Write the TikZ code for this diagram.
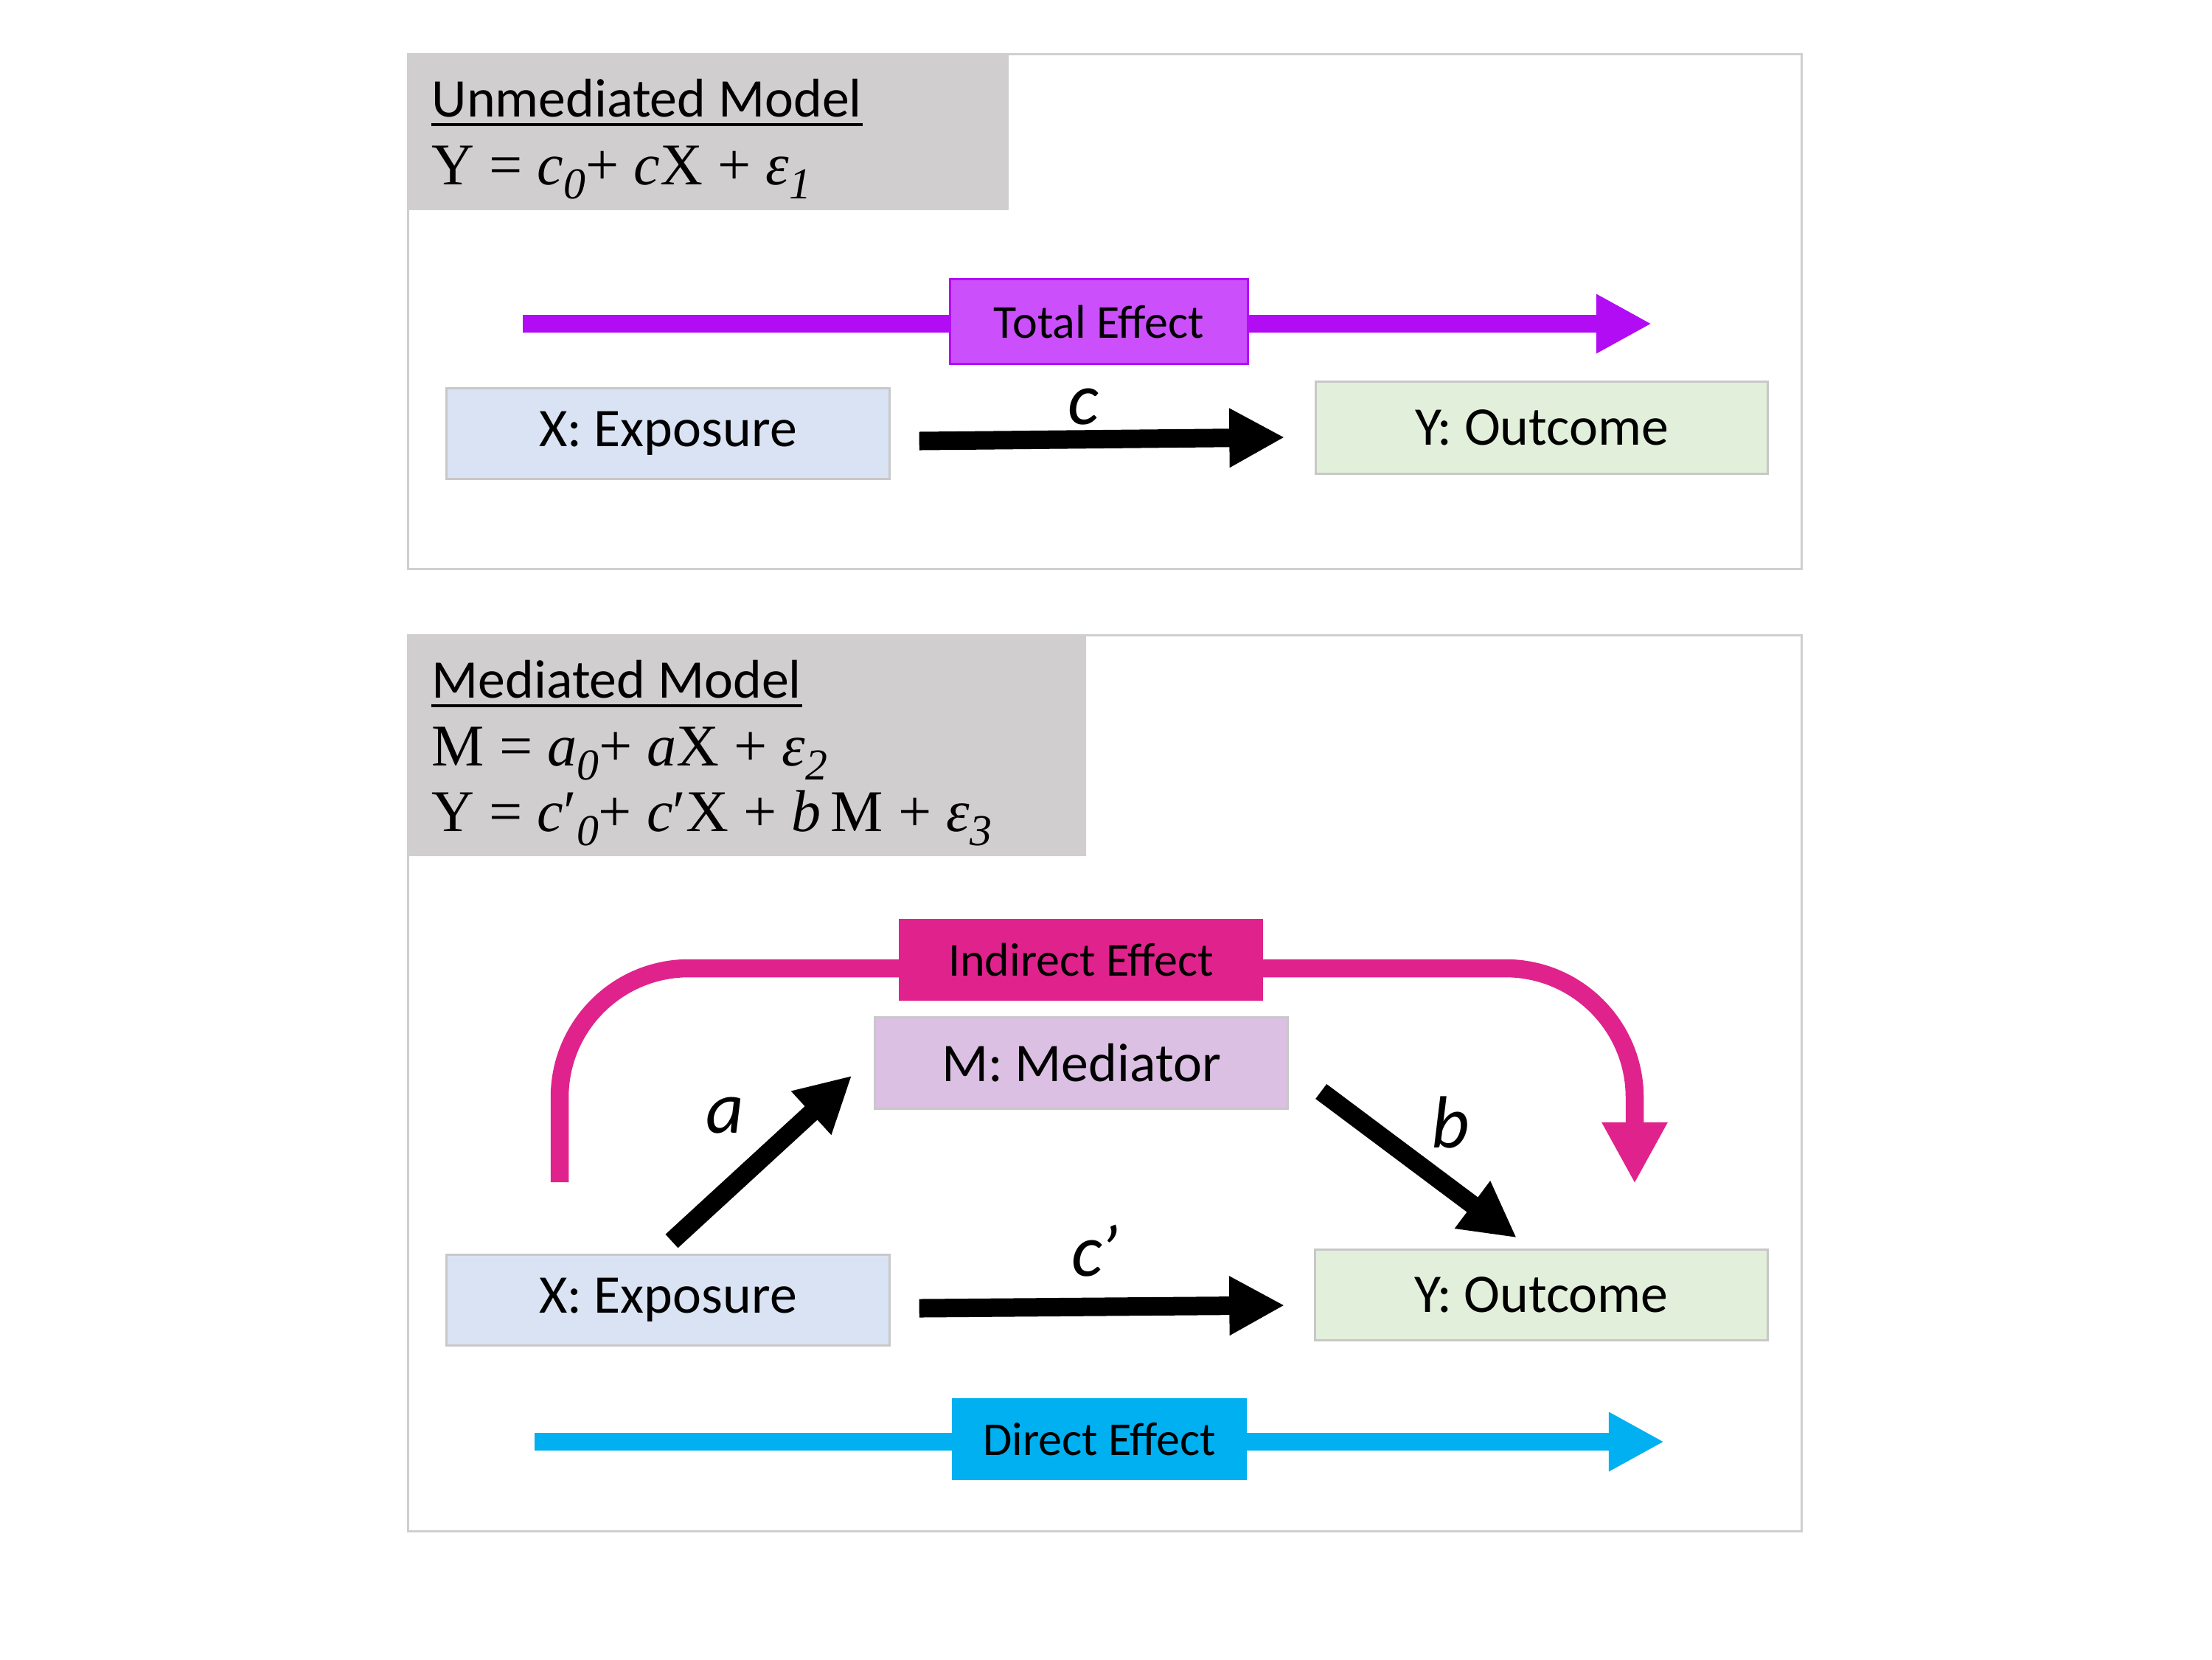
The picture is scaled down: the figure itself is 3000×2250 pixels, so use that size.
\documentclass[tikz,border=0pt]{standalone}
\usepackage{fontspec}
\setmainfont{Carlito}
\newfontfamily\eqfont{Liberation Serif}
\usetikzlibrary{arrows.meta,calc}
\definecolor{hdrgray}{RGB}{208,206,206}
\definecolor{panelgray}{RGB}{208,206,206}
\definecolor{boxgray}{RGB}{200,200,200}
\definecolor{xfill}{RGB}{218,227,243}
\definecolor{yfill}{RGB}{226,239,218}
\definecolor{mfill}{RGB}{220,192,228}
\definecolor{purpleA}{RGB}{178,12,245}
\definecolor{purpleB}{RGB}{203,79,250}
\definecolor{pinkA}{RGB}{224,35,140}
\definecolor{blueA}{RGB}{0,176,240}
\newcommand{\eqsub}[1]{\raisebox{-0.24em}{\fontsize{17}{17}\selectfont\itshape #1}}
\tikzset{
  panel/.style={draw=panelgray, line width=0.03cm},
  hdr/.style={inner sep=0pt, font=\fontsize{21}{25}\selectfont},
  eqn/.style={inner sep=0pt, font=\eqfont\fontsize{22.8}{25}\selectfont},
  uline/.style={line width=0.04cm},
  varbox/.style={draw=boxgray, line width=0.03cm, inner sep=0pt, font=\fontsize{21}{25}\selectfont},
  effbox/.style={inner sep=0pt, font=\fontsize{18.2}{22}\selectfont},
  effarrow/.style={line width=0.245cm, -{Triangle[length=0.75cm,width=0.75cm]}},
  blk/.style={line width=0.25cm, -{Triangle[length=0.75cm,width=0.75cm]}},
  lbl/.style={inner sep=0pt, font=\fontsize{28.5}{30}\selectfont\itshape},
}
\begin{document}
\begin{tikzpicture}[x=0.01cm,y=-0.01cm]
\useasboundingbox[fill=white] (0,0) rectangle (3000,2250);

% ---------- top panel ----------
\draw[panel] (553,73) rectangle (2443,771);
\fill[hdrgray] (553,73) rectangle (1368,285);
\node[hdr, anchor=base west] (t1) at (585,158) {Unmediated Model};
\draw[uline] ($(t1.base west)+(0,11)$) -- ($(t1.base east)+(0,11)$);
\node[eqn, anchor=base west] (e1) at (585,250)
  {Y = \textit{c}\eqsub{0}+ \textit{c}X + \textit{ε}\eqsub{1}};

\coordinate (ts) at (709,439);
\coordinate (te) at (2240,439);
\draw[effarrow, purpleA] (ts) -- (te);
\node[effbox, fill=purpleB, draw=purpleA, line width=0.03cm, minimum width=4.03cm, minimum height=1.14cm] (tot) at (1490.5,436) {Total Effect};

\node[varbox, fill=xfill, minimum width=6cm, minimum height=1.22cm] (x1) at (906,588) {X: Exposure};
\node[varbox, fill=yfill, minimum width=6.12cm, minimum height=1.24cm] (y1) at (2091,580) {Y: Outcome};
\draw[blk] ($(x1.east)+(39,10)$) -- ($(y1.west)+(-41,13)$);
\node[lbl, anchor=base] (lc) at (1469,575) {c};

% ---------- bottom panel ----------
\draw[panel] (553,861) rectangle (2443,2076);
\fill[hdrgray] (553,861) rectangle (1473,1161);
\node[hdr, anchor=base west] (t2) at (585,946) {Mediated Model};
\draw[uline] ($(t2.base west)+(0,11)$) -- ($(t2.base east)+(0,11)$);
\node[eqn, anchor=base west] (e2) at (585,1038)
  {M = \textit{a}\eqsub{0}+ \textit{a}X + \textit{ε}\eqsub{2}};
\node[eqn, anchor=base west] (e3) at (585,1127)
  {Y = \textit{c}′\eqsub{0}+ \textit{c}′X + \textit{b}\,M + \textit{ε}\eqsub{3}};

\coordinate (is) at (759,1603);
\coordinate (im) at (1466,1313);
\coordinate (ie) at (2217,1605);
\draw[effarrow, pinkA, rounded corners=1.75cm, -{Triangle[length=0.83cm,width=0.83cm]}] (is) |- (im) -| (ie);
\node[effbox, fill=pinkA, minimum width=4.94cm, minimum height=1.11cm] (ind) at (1466,1301.5) {Indirect Effect};

\node[varbox, fill=mfill, minimum width=5.59cm, minimum height=1.23cm] (m) at (1466.5,1441.5) {M: Mediator};
\node[varbox, fill=xfill, minimum width=6cm, minimum height=1.23cm] (x2) at (906,1763) {X: Exposure};
\node[varbox, fill=yfill, minimum width=6.13cm, minimum height=1.23cm] (y2) at (2090.5,1755.5) {Y: Outcome};

\draw[blk] ($(x2.north)+(5,-17)$) -- ($(m.south west)+(-30,-46)$);
\draw[blk] ($(m.east)+(44,38.5)$) -- ($(y2.north)+(-33.5,-14)$);
\draw[blk] ($(x2.east)+(39,11)$) -- ($(y2.west)+(-40,14.5)$);
\node[lbl, anchor=base] (la) at (983,1536) {a};
\node[lbl, anchor=base] (lb) at (1967,1556) {b};
\node[lbl, anchor=base] (lcp) at (1485,1730) {c\kern-0.03em’};

\coordinate (ds) at (725,1955);
\coordinate (de) at (2257,1955);
\draw[effarrow, blueA] (ds) -- (de);
\node[effbox, fill=blueA, minimum width=4cm, minimum height=1.11cm] (dir) at (1491,1951.5) {Direct Effect};
\end{tikzpicture}
\end{document}
